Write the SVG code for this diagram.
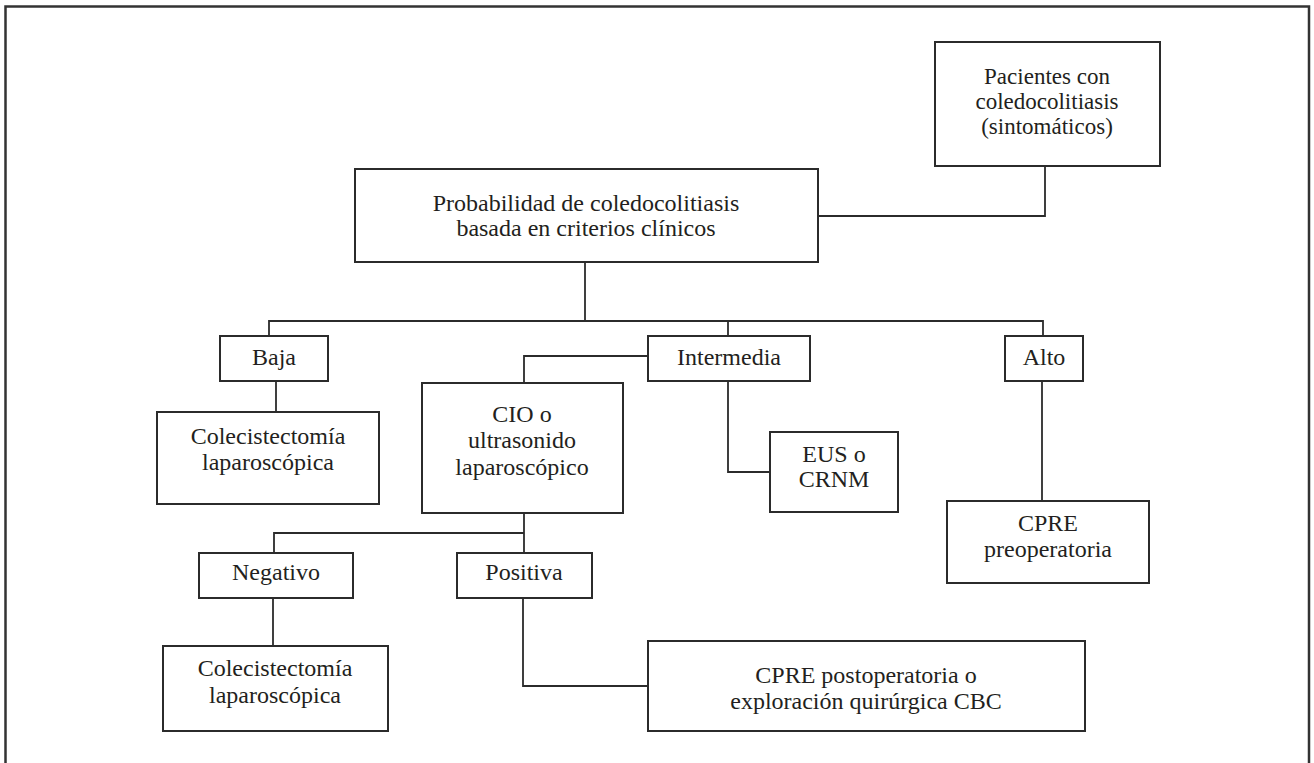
<svg xmlns="http://www.w3.org/2000/svg" width="1314" height="763" viewBox="0 0 1314 763">
<style>
.bx{fill:#fff;stroke:#2b2b2b;stroke-width:2}
.cn{fill:none;stroke:#2b2b2b;stroke-width:1.8}
text{font-family:"Liberation Serif","Times New Roman",serif;font-size:24px;fill:#231f20;text-anchor:middle}
.sm{font-size:23px}
</style>
<rect x="0" y="0" width="1314" height="763" fill="#fff"/>
<rect x="5.5" y="6.5" width="1303.5" height="800" fill="none" stroke="#333" stroke-width="2.5"/>
<g id="connectors">
<polyline class="cn" points="1045,166 1045,216 818,216"/>
<polyline class="cn" points="585,262 585,321"/>
<polyline class="cn" points="269,336 269,321 1043,321 1043,336"/>
<polyline class="cn" points="728,321 728,336"/>
<polyline class="cn" points="276,381 276,412"/>
<polyline class="cn" points="648,356 524,356 524,383"/>
<polyline class="cn" points="728,381 728,472 770,472"/>
<polyline class="cn" points="1042,381 1042,501"/>
<polyline class="cn" points="524,513 524,553"/>
<polyline class="cn" points="274,553 274,533 524,533"/>
<polyline class="cn" points="273,598 273,646"/>
<polyline class="cn" points="523,598 523,686 648,686"/>
</g>
<g id="pacientes"><rect class="bx" x="935" y="42" width="225" height="124"/><text class="sm" x="1047" y="84">Pacientes con</text><text class="sm" x="1047" y="109">coledocolitiasis</text><text class="sm" x="1047" y="134">(sintomáticos)</text></g>
<g id="probabilidad"><rect class="bx" x="355" y="169" width="463" height="93"/><text x="586" y="211">Probabilidad de coledocolitiasis</text><text x="586" y="236">basada en criterios clínicos</text></g>
<g id="baja"><rect class="bx" x="220" y="336" width="108" height="45"/><text x="274" y="365">Baja</text></g>
<g id="intermedia"><rect class="bx" x="648" y="336" width="162" height="45"/><text x="729" y="365">Intermedia</text></g>
<g id="alto"><rect class="bx" x="1005" y="336" width="78" height="45"/><text x="1044" y="365">Alto</text></g>
<g id="colecistectomia1"><rect class="bx" x="157" y="412" width="222" height="92"/><text x="268" y="444">Colecistectomía</text><text x="268" y="470">laparoscópica</text></g>
<g id="cio"><rect class="bx" x="422" y="383" width="201" height="130"/><text x="522" y="422">CIO o</text><text x="522" y="448">ultrasonido</text><text x="522" y="475">laparoscópico</text></g>
<g id="eus"><rect class="bx" x="770" y="432" width="128" height="80"/><text x="834" y="462">EUS o</text><text x="834" y="487">CRNM</text></g>
<g id="cpre-pre"><rect class="bx" x="947" y="501" width="202" height="82"/><text x="1048" y="531">CPRE</text><text x="1048" y="557">preoperatoria</text></g>
<g id="negativo"><rect class="bx" x="199" y="553" width="154" height="45"/><text x="276" y="580">Negativo</text></g>
<g id="positiva"><rect class="bx" x="457" y="553" width="135" height="45"/><text x="524" y="580">Positiva</text></g>
<g id="colecistectomia2"><rect class="bx" x="163" y="646" width="225" height="85"/><text x="275" y="676">Colecistectomía</text><text x="275" y="703">laparoscópica</text></g>
<g id="cpre-post"><rect class="bx" x="648" y="641" width="437" height="90"/><text x="866" y="683">CPRE postoperatoria o</text><text x="866" y="709">exploración quirúrgica CBC</text></g>
</svg>
